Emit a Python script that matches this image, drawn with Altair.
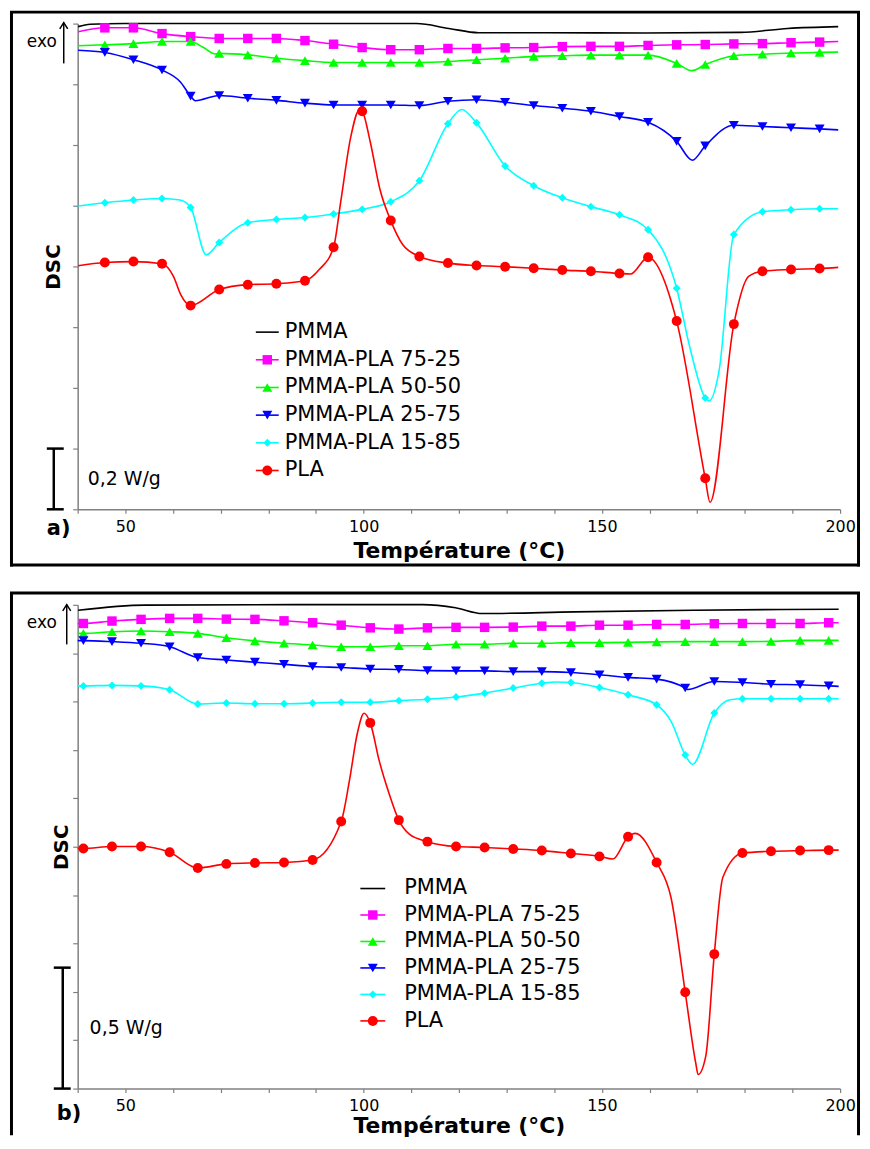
import json
import altair as alt
import pandas as pd

SERIES = ["PMMA", "PMMA-PLA 75-25", "PMMA-PLA 50-50", "PMMA-PLA 25-75", "PMMA-PLA 15-85", "PLA"]
COLORS = ["#000000", "#FF00FF", "#00FF00", "#0000FF", "#00FFFF", "#FF0000"]
SHAPES = ["circle", "square", "triangle-up", "triangle-down", "diamond", "circle"]
SIZES = [0, 90, 100, 100, 64, 100]

# ---------------- panel a) ----------------
A_MARK_T = [45.7, 51.7, 57.7, 63.7, 69.7, 75.7, 81.7, 87.7, 93.7, 99.7, 105.7, 111.7, 117.7,
            123.7, 129.7, 135.7, 141.7, 147.7, 153.7, 159.7, 165.7, 171.7, 177.7, 183.7, 189.7, 195.7]

a_pmma_T = [40.1, 42.6, 49.8, 66.3, 86.9, 111.1, 117.9, 124.1, 138.5, 159.1, 179.2, 189.0, 199.6]
a_pmma_V = [1.590, 1.598, 1.600, 1.600, 1.600, 1.600, 1.584, 1.570, 1.570, 1.569, 1.571, 1.584, 1.590]

a_7525_M = [1.586, 1.586, 1.567, 1.557, 1.551, 1.551, 1.551, 1.544, 1.532, 1.521, 1.514, 1.514, 1.518,
            1.518, 1.520, 1.521, 1.524, 1.525, 1.525, 1.528, 1.530, 1.531, 1.533, 1.534, 1.537, 1.539]
a_7525_eT = [40.1, 199.6]
a_7525_eV = [1.573, 1.541]

a_5050_M = [1.530, 1.534, 1.541, 1.541, 1.502, 1.497, 1.486, 1.478, 1.472, 1.472, 1.472, 1.472, 1.475,
            1.481, 1.486, 1.492, 1.494, 1.496, 1.496, 1.496, 1.469, 1.465, 1.494, 1.499, 1.503, 1.505]
a_5050_eT = [40.1, 66.3, 68.9, 168.9, 199.6]
a_5050_eV = [1.527, 1.522, 1.500, 1.445, 1.506]

a_2575_M = [1.505, 1.481, 1.447, 1.361, 1.363, 1.354, 1.347, 1.338, 1.332, 1.332, 1.332, 1.330, 1.344,
            1.349, 1.341, 1.330, 1.321, 1.311, 1.294, 1.275, 1.212, 1.197, 1.265, 1.261, 1.257, 1.253]
a_2575_eT = [40.1, 61.6, 64.7, 169.0, 199.6]
a_2575_eV = [1.512, 1.407, 1.346, 1.150, 1.250]

a_1585_M = [1.010, 1.019, 1.024, 0.994, 0.879, 0.944, 0.955, 0.961, 0.973, 0.988, 1.013, 1.082, 1.270,
            1.273, 1.131, 1.066, 1.026, 0.997, 0.970, 0.921, 0.728, 0.367, 0.905, 0.980, 0.987, 0.990]
a_1585_eT = [40.1, 61.5, 67.0, 120.6, 168.4, 172.5, 174.6, 199.6]
a_1585_eV = [0.999, 1.019, 0.838, 1.317, 0.538, 0.357, 0.456, 0.990]

a_pla_M = [0.813, 0.816, 0.809, 0.671, 0.724, 0.740, 0.743, 0.753, 0.863, 1.311, 0.951, 0.833, 0.811,
           0.803, 0.799, 0.794, 0.788, 0.784, 0.777, 0.830, 0.620, 0.102, 0.610, 0.784, 0.790, 0.793]
a_pla_eT = [40.1, 60.1, 61.6, 90.7, 95.2, 97.3, 99.1, 101.4, 103.4, 108.2, 156.0, 172.7, 180.8, 199.6]
a_pla_eV = [0.802, 0.767, 0.708, 0.790, 1.013, 1.226, 1.315, 1.210, 1.056, 0.872, 0.775, 0.023, 0.767, 0.797]

# ---------------- panel b) ----------------
B_MARK_T = [41.2, 47.2, 53.3, 59.3, 65.2, 71.2, 77.2, 83.3, 89.3, 95.3, 101.4, 107.4, 113.4, 119.4,
            125.4, 131.4, 137.4, 143.5, 149.5, 155.5, 161.5, 167.5, 173.6, 179.5, 185.5, 191.6, 197.6]

b_pmma_T = [40.1, 54.1, 86.0, 112.4, 119.3, 124.9, 144.3, 169.3, 199.7]
b_pmma_V = [1.978, 1.999, 2.001, 2.001, 1.988, 1.964, 1.971, 1.978, 1.982]

b_7525_M = [1.923, 1.933, 1.940, 1.944, 1.944, 1.941, 1.940, 1.934, 1.926, 1.916, 1.905, 1.900, 1.905, 1.907,
            1.907, 1.908, 1.912, 1.912, 1.916, 1.916, 1.919, 1.919, 1.922, 1.923, 1.923, 1.923, 1.926]
b_7525_eT = [40.0, 199.7]
b_7525_eV = [1.923, 1.926]

b_5050_M = [1.882, 1.889, 1.892, 1.889, 1.882, 1.864, 1.851, 1.841, 1.834, 1.827, 1.827, 1.831, 1.831, 1.837,
            1.837, 1.841, 1.841, 1.844, 1.844, 1.845, 1.847, 1.848, 1.848, 1.848, 1.849, 1.853, 1.853]
b_5050_eT = [40.0, 199.7]
b_5050_eV = [1.882, 1.853]

b_2575_M = [1.852, 1.848, 1.841, 1.827, 1.782, 1.772, 1.763, 1.754, 1.745, 1.741, 1.735, 1.733, 1.728, 1.727,
            1.727, 1.724, 1.724, 1.720, 1.711, 1.700, 1.693, 1.656, 1.683, 1.679, 1.672, 1.670, 1.665]
b_2575_eT = [40.0, 168.0, 199.7]
b_2575_eV = [1.852, 1.650, 1.663]

b_1585_M = [1.665, 1.667, 1.665, 1.649, 1.590, 1.594, 1.591, 1.591, 1.594, 1.597, 1.597, 1.604, 1.610, 1.619,
            1.635, 1.656, 1.676, 1.679, 1.658, 1.628, 1.587, 1.379, 1.553, 1.612, 1.612, 1.612, 1.612]
b_1585_eT = [40.0, 140.5, 164.5, 169.0, 176.9, 199.7]
b_1585_eV = [1.665, 1.681, 1.519, 1.340, 1.608, 1.612]

b_pla_M = [0.993, 1.001, 1.001, 0.977, 0.912, 0.929, 0.933, 0.935, 0.945, 1.104, 1.512, 1.110, 1.021, 1.001,
           0.997, 0.991, 0.984, 0.972, 0.960, 1.041, 0.935, 0.398, 0.556, 0.974, 0.981, 0.984, 0.986]
b_pla_eT = [40.0, 97.0, 98.7, 100.1, 103.3, 105.4, 109.6, 152.3, 157.0, 164.5, 169.7, 170.2, 171.8, 175.4, 199.7]
b_pla_eV = [0.993, 1.27, 1.47, 1.552, 1.354, 1.217, 1.052, 0.949, 1.055, 0.791, 0.106, 0.058, 0.133, 0.874, 0.986]

SCALE_A = 0.2   # W/g
SCALE_B = 0.5   # W/g


def build(mark_t, pmma_t, pmma_v, groups):
    rows = []
    for t, v in zip(pmma_t, pmma_v):
        rows.append(dict(series=SERIES[0], T=t, v=v, marker=0))
    for name, (mv, et, ev) in zip(SERIES[1:], groups):
        for t, v in zip(mark_t, mv):
            rows.append(dict(series=name, T=t, v=v, marker=1))
        for t, v in zip(et, ev):
            rows.append(dict(series=name, T=t, v=v, marker=0))
    return pd.DataFrame(rows)


df_a = build(A_MARK_T, a_pmma_T, a_pmma_V,
             [(a_7525_M, a_7525_eT, a_7525_eV), (a_5050_M, a_5050_eT, a_5050_eV),
              (a_2575_M, a_2575_eT, a_2575_eV), (a_1585_M, a_1585_eT, a_1585_eV),
              (a_pla_M, a_pla_eT, a_pla_eV)])
df_b = build(B_MARK_T, b_pmma_T, b_pmma_V,
             [(b_7525_M, b_7525_eT, b_7525_eV), (b_5050_M, b_5050_eT, b_5050_eV),
              (b_2575_M, b_2575_eT, b_2575_eV), (b_1585_M, b_1585_eT, b_1585_eV),
              (b_pla_M, b_pla_eT, b_pla_eV)])

legend_df = pd.DataFrame({"series": SERIES, "idx": list(range(len(SERIES)))})
one = pd.DataFrame({"k": [0]})

FONT = "DejaVu Sans"
SIZE_EXPR = f"{json.dumps(SIZES)}[indexof({json.dumps(SERIES)}, datum.series)]"
color_enc = alt.Color("series:N", scale=alt.Scale(domain=SERIES, range=COLORS), legend=None)
shape_enc = alt.Shape("series:N", scale=alt.Scale(domain=SERIES, range=SHAPES), legend=None)
size_enc = alt.Size("sz:Q", scale=None, legend=None)

PLOT_W = 766


def frame_layers(x1, x2, y1, y2, bottom):
    sw = 3
    ext = sw / 2 if bottom else 0
    out = [
        alt.Chart(one).mark_rule(strokeWidth=sw, color="black").encode(
            x=alt.value(x1 - sw / 2), x2=alt.value(x2 + sw / 2), y=alt.value(y1)),
        alt.Chart(one).mark_rule(strokeWidth=sw, color="black").encode(
            x=alt.value(x1), y=alt.value(y1), y2=alt.value(y2 + ext)),
        alt.Chart(one).mark_rule(strokeWidth=sw, color="black").encode(
            x=alt.value(x2), y=alt.value(y1), y2=alt.value(y2 + ext)),
    ]
    if bottom:
        out.append(alt.Chart(one).mark_rule(strokeWidth=sw, color="black").encode(
            x=alt.value(x1 - sw / 2), x2=alt.value(x2 + sw / 2), y=alt.value(y2)))
    return out


def panel(df, ymax, tick_step, height, dsc_x, frame, leg, sbar, scale_val, scale_txt,
          exo, tag, title_y):
    n_ticks = int(round(ymax / tick_step)) + 1
    xenc = alt.X("T:Q", scale=alt.Scale(domain=[40, 200], nice=False, zero=False),
                 axis=alt.Axis(values=list(range(40, 201, 10)),
                               labelExpr="datum.value % 50 == 0 ? datum.label : ''",
                               title="Température (°C)", tickSize=4, labelPadding=5,
                               labelFlush=False, titleY=title_y, titleBaseline="middle",
                               titleFontSize=22))
    yenc = alt.Y("v:Q", scale=alt.Scale(domain=[0, ymax], nice=False, zero=False),
                 axis=alt.Axis(values=[round(i * tick_step, 3) for i in range(n_ticks)],
                               labels=False, tickSize=5, title="DSC", titleX=dsc_x,
                               titleY=height / 2, titleAngle=270, titleAlign="center",
                               titleBaseline="middle", titleFontSize=20))

    base = alt.Chart(df)
    lines = base.mark_line(interpolate="monotone", strokeWidth=1.6).encode(
        x=xenc, y=yenc, color=color_enc)
    pts = base.transform_filter("datum.marker == 1").transform_calculate(
        sz=SIZE_EXPR).mark_point(filled=True, opacity=1).encode(
        x="T:Q", y="v:Q", color=color_enc, shape=shape_enc, size=size_enc)

    lx1, lx2, lxm, ltx, ly0, ldy = leg
    calc = f"{ymax} * (1 - ({ly0} + datum.idx * {ldy}) / {height})"
    lbase = alt.Chart(legend_df).transform_calculate(v=calc, sz=SIZE_EXPR)
    leg_rule = lbase.mark_rule(strokeWidth=1.6).encode(
        x=alt.value(lx1), x2=alt.value(lx2), y="v:Q", color=color_enc)
    leg_pts = lbase.transform_filter("datum.idx > 0").mark_point(filled=True, opacity=1).encode(
        x=alt.value(lxm), y="v:Q", color=color_enc, shape=shape_enc, size=size_enc)
    leg_txt = lbase.mark_text(align="left", baseline="middle", fontSize=21, font=FONT,
                              color="black").encode(x=alt.value(ltx), y="v:Q", text="series:N")

    bx, bc1, bc2, btx = sbar
    sb_v = alt.Chart(one).mark_rule(strokeWidth=2.5, color="black").encode(
        x=alt.value(bx), y=alt.datum(0), y2=alt.datum(scale_val))
    sb_c0 = alt.Chart(one).mark_rule(strokeWidth=2.5, color="black").encode(
        x=alt.value(bc1), x2=alt.value(bc2), y=alt.datum(0))
    sb_c1 = alt.Chart(one).mark_rule(strokeWidth=2.5, color="black").encode(
        x=alt.value(bc1), x2=alt.value(bc2), y=alt.datum(scale_val))
    sb_t = alt.Chart(one).mark_text(align="left", baseline="middle", fontSize=19, font=FONT,
                                    color="black").encode(
        x=alt.value(btx), y=alt.datum(scale_val / 2), text=alt.value(scale_txt))

    ex_tx, ex_ty, ax, ay1, ay2 = exo
    exo_t = alt.Chart(one).mark_text(align="right", baseline="middle", fontSize=17, font=FONT,
                                     color="black").encode(
        x=alt.value(ex_tx), y=alt.value(ex_ty), text=alt.value("exo"))
    exo_r = alt.Chart(one).mark_rule(strokeWidth=1.5, color="black").encode(
        x=alt.value(ax), y=alt.value(ay1), y2=alt.value(ay2))
    exo_h = alt.Chart(one).mark_point(shape="M-1,1.6L0,0L1,1.6", filled=False, strokeWidth=1.5,
                                      color="black", size=64, opacity=1).encode(
        x=alt.value(ax), y=alt.value(ay1))

    tg_txt, tg_x, tg_y = tag
    tag_t = alt.Chart(one).mark_text(align="left", baseline="middle", fontSize=21, font=FONT,
                                     fontWeight="bold", color="black").encode(
        x=alt.value(tg_x), y=alt.value(tg_y), text=alt.value(tg_txt))

    fx1, fx2, fy1, fy2, fbottom = frame
    layers = frame_layers(fx1, fx2, fy1, fy2, fbottom) + [
        lines, pts, leg_rule, leg_pts, leg_txt, sb_v, sb_c0, sb_c1, sb_t,
        exo_t, exo_r, exo_h, tag_t]
    return alt.layer(*layers).properties(width=PLOT_W, height=height)


pa = panel(df_a, 1.6, 0.05, 488, -24,
           (-66.5, 784.5, -11.5, 544, True),
           (179, 202, 190.5, 208, 310, 27.8),
           (-24, -31, -14, 10), SCALE_A, "0,2 W/g",
           (-21, 19, -14, -1, 40), ("a)", -31, 508), 41)

pb = panel(df_b, 2.0, 0.1, 486, -16,
           (-66.5, 784.5, -12, 533, False),
           (284, 309, 296.5, 328, 285, 26.6),
           (-15, -24, -7, 12), SCALE_B, "0,5 W/g",
           (-21, 18.7, -11, -0.3, 39.7), ("b)", -21, 512), 37)

chart = alt.vconcat(pa, pb, spacing=23).properties(
    padding=0, background="white"
).configure_view(stroke=None).configure_axis(
    domainColor="#808080", tickColor="#808080", domainWidth=1.5, tickWidth=1.2,
    labelColor="black", labelFont=FONT, labelFontSize=16,
    titleFont=FONT, titleFontWeight="bold", titleColor="black", grid=False
)

chart.save("out.html", embed_options={"renderer": "svg", "actions": False})
